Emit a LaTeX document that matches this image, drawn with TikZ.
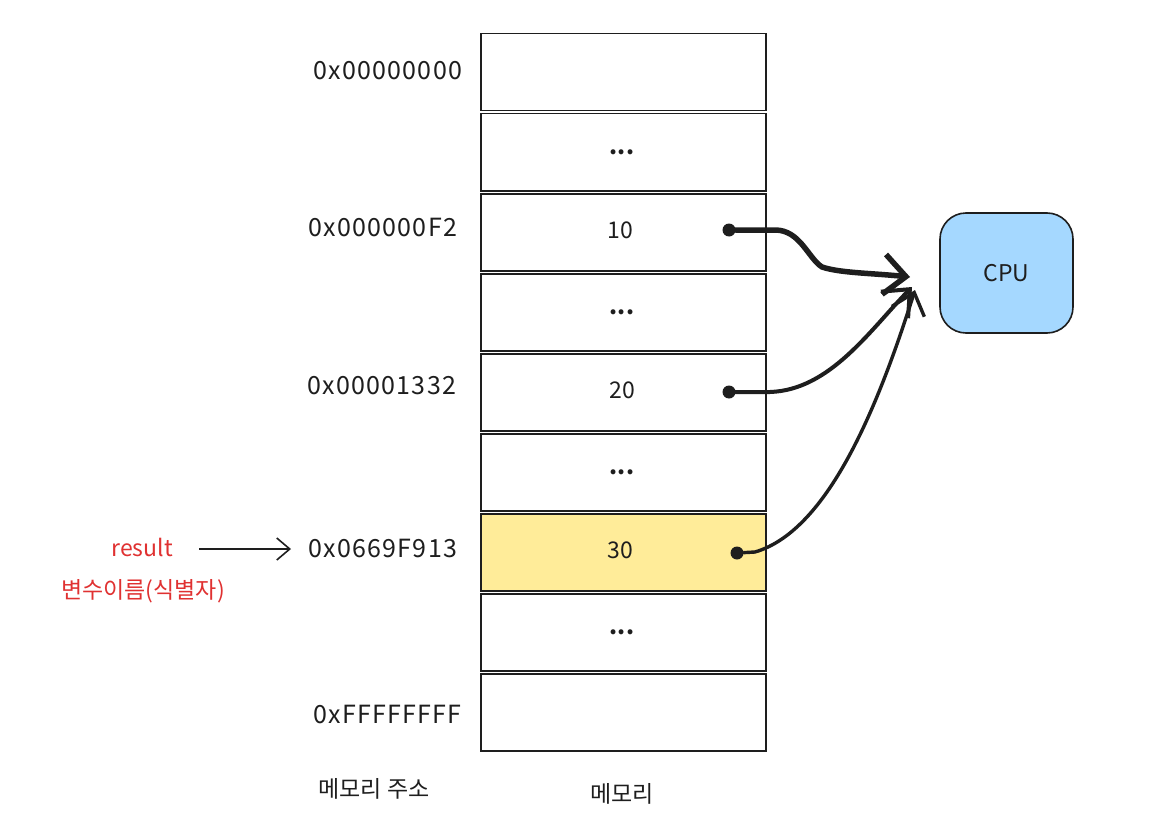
\documentclass[tikz,border=0pt]{standalone}
\usepackage{fontspec}
\setmainfont{Noto Sans CJK KR}
\usetikzlibrary{arrows.meta}
\definecolor{cpublue}{HTML}{A5D8FF}
\definecolor{memyellow}{HTML}{FFEC99}
\definecolor{labred}{HTML}{E03131}
\definecolor{ink}{HTML}{1E1E1E}
\begin{document}
\begin{tikzpicture}[x=1pt,y=-1pt,
  cell/.style={draw=ink,line width=1.5pt,minimum width=285pt,minimum height=77pt,inner sep=0pt,anchor=north west},
  addr/.style={anchor=west,font=\fontsize{25}{28}\selectfont\addfontfeatures{LetterSpace=5},text=ink},
  val/.style={font=\fontsize{23}{26}\selectfont,text=ink},
  dotsv/.style={font=\fontsize{23}{26}\selectfont\bfseries,text=ink},
  dotn/.style={circle,fill=ink,inner sep=0pt,minimum size=13pt},
  feed/.style={draw=ink,line width=4pt,line cap=round,-{Straight Barb[length=22pt,width=38pt,line width=4pt]}},
  redtxt/.style={font=\fontsize{23}{26}\selectfont,text=labred}
]
\useasboundingbox (0,0) rectangle (1172,832);
\fill[white] (0,0) rectangle (1172,832);
% memory cells
\node[cell] (m1) at (480,33) {};
\node[cell] (m2) at (480,113) {};
\node[cell] (m3) at (480,193) {};
\node[cell] (m4) at (480,273) {};
\node[cell] (m5) at (480,353) {};
\node[cell] (m6) at (480,433) {};
\node[cell,fill=memyellow] (m7) at (480,513) {};
\node[cell] (m8) at (480,593) {};
\node[cell] (m9) at (480,673) {};
% values
\node[dotsv] (v2) at (622,152) {...};
\node[val] (v3) at (620,230) {10};
\node[dotsv] (v4) at (622,312) {...};
\node[val] (v5) at (622,390) {20};
\node[dotsv] (v6) at (622,472) {...};
\node[val] (v7) at (620,550) {30};
\node[dotsv] (v8) at (622,632) {...};
% addresses
\node[addr] (a1) at (310,71) {0x00000000};
\node[addr] (a3) at (305,227) {0x000000F2};
\node[addr] (a5) at (304,386) {0x00001332};
\node[addr] (a7) at (305,548) {0x0669F913};
\node[addr] (a9) at (310,714) {0xFFFFFFFF};
% bottom labels
\node[font=\fontsize{23}{26}\selectfont,text=ink] (lb1) at (374,789) {메모리 주소};
\node[font=\fontsize{23}{26}\selectfont,text=ink] (lb2) at (622,794) {메모리};
% variable name
\node[redtxt] (res) at (142,547) {result};
\node[redtxt] (ident) at (143,591) {변수이름(식별자)};
\coordinate (rs) at (199,549);
\coordinate (re) at (291,549);
\draw[draw=ink,line width=1.6pt,-{Straight Barb[length=13pt,width=22pt,line width=1.6pt]}] (rs) -- (re);
% CPU
\node[draw=ink,line width=1.6pt,fill=cpublue,rounded corners=26pt,minimum width=133pt,minimum height=120pt,font=\fontsize{23}{26}\selectfont,text=ink] (cpu) at (1006.5,273) {CPU};
% dots and connectors
\node[dotn] (d3) at (729,230) {};
\node[dotn] (d5) at (729,392) {};
\node[dotn] (d7) at (737,553) {};
\coordinate (t1) at (910,277);
\coordinate (t2) at (912,287);
\coordinate (t3) at (915,290);
\draw[feed,line width=5.5pt,-{Straight Barb[length=22pt,width=40pt,line width=5.5pt]}] (d3) -- (775,230) .. controls (800,230) and (808,258) .. (822,267) .. controls (840,273) and (870,273) .. (t1);
\draw[feed] (d5) -- (770,392) .. controls (830,390) and (870,330) .. (t2);
\draw[feed,line width=3.4pt,-{Straight Barb[length=20pt,width=34pt,line width=3.4pt]}] (d7) -- (755,552) .. controls (830,530) and (880,400) .. (t3);
\end{tikzpicture}
\end{document}
